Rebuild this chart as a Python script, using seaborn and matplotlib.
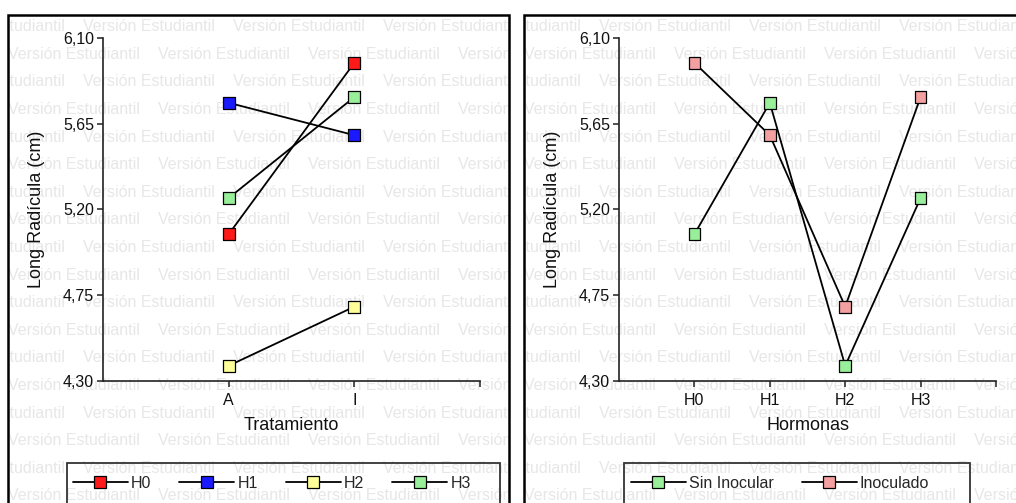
import matplotlib
matplotlib.use("Agg")
import matplotlib.pyplot as plt
from matplotlib.lines import Line2D
from matplotlib.patches import Rectangle
import pandas as pd
import seaborn as sns

# --- data -------------------------------------------------------------
tratamientos = ["A", "I"]
grupos = ["Sin Inocular", "Inoculado"]          # A = Sin Inocular, I = Inoculado
hormonas = ["H0", "H1", "H2", "H3"]
sin_inocular = [5.07, 5.76, 4.38, 5.26]
inoculado = [5.97, 5.59, 4.69, 5.79]
y_ticks = [4.30, 4.75, 5.20, 5.65, 6.10]
y_tick_labels = ["4,30", "4,75", "5,20", "5,65", "6,10"]

colores_hormona = ["#ff1a1a", "#1a1aff", "#ffff99", "#99ef99"]
colores_grupo = ["#99ef99", "#f4a0a0"]

rows = []
for i, h in enumerate(hormonas):
    for t, g, vals in zip(tratamientos, grupos, [sin_inocular, inoculado]):
        rows.append({"Hormona": h, "Tratamiento": t, "Grupo": g, "Long": vals[i]})
df = pd.DataFrame(rows)

# --- style ------------------------------------------------------------
sns.set_theme(style="white")
plt.rcParams["font.family"] = ["Liberation Sans", "DejaVu Sans"]

W, H = 1016, 503
fig = plt.figure(figsize=(W / 100, H / 100), dpi=100)
fig.patch.set_facecolor("white")

def px(x0, y_top, w, h):
    return [x0 / W, 1 - (y_top + h) / H, w / W, h / H]

# panel frames with the faint watermark text inside them
for fx0, fx1 in [(8, 509), (524, 1040)]:
    frame = Rectangle((fx0 / W, -0.1), (fx1 - fx0) / W, 0.1 + 1 - 15 / H,
                      transform=fig.transFigure, fill=False,
                      edgecolor="black", linewidth=1.8, zorder=1)
    fig.add_artist(frame)
    for i in range(19):
        yc = 26.7 + 27.6 * i
        off = 75 if i % 2 == 0 else 0
        for k in range(-1, 4):
            xs = fx0 + off + 150 * k
            t = fig.text(xs / W, 1 - yc / H, "Versión Estudiantil",
                         color="#e7e7e7", fontsize=11.5, ha="left",
                         va="center", zorder=-1)
            t.set_clip_path(frame)

def draw_panel(ax, x, hue, order, hue_order, palette, xlabel, legend_x, box):
    sns.lineplot(data=df, x=x, y="Long", units=hue, estimator=None,
                 color="black", linewidth=1.3, ax=ax, legend=False)
    sns.scatterplot(data=df, x=x, y="Long", hue=hue, hue_order=hue_order,
                    palette=palette, marker="s", s=72, edgecolor="black",
                    linewidth=0.9, ax=ax, legend=False, zorder=3)
    n = len(order)
    ax.set_xlim(-1, n)
    ax.set_xticks(list(range(n + 1)))
    ax.set_xticklabels(order + [""])
    ax.set_ylim(4.30, 6.10)
    ax.set_yticks(y_ticks)
    ax.set_yticklabels(y_tick_labels)
    ax.set_facecolor("none")
    for s in ["top", "right"]:
        ax.spines[s].set_visible(False)
    for s in ["left", "bottom"]:
        ax.spines[s].set_color("#222222")
        ax.spines[s].set_linewidth(1.2)
    ax.tick_params(axis="both", direction="out", length=4.5, width=1.1,
                   color="#222222", labelsize=11.5, labelcolor="#111111")
    ax.tick_params(axis="y", pad=2, left=True)
    ax.tick_params(axis="x", pad=4, bottom=True)
    ax.set_xlabel(xlabel, fontsize=13, color="#111111")
    ax.set_ylabel("Long Radícula (cm)", fontsize=13, color="#111111")
    ax.xaxis.set_label_coords(0.5, -0.105)
    ax.yaxis.set_label_coords(-0.155, 0.5)

    handles = [Line2D([], [], color="black", linewidth=1.3, marker="s",
                      markersize=8.5, markerfacecolor=c, markeredgecolor="black",
                      markeredgewidth=0.9) for c in palette]
    ax.legend(handles, hue_order, loc="center left",
              bbox_to_anchor=(legend_x / W, 1 - 483 / H),
              bbox_transform=fig.transFigure, ncol=len(hue_order),
              frameon=False, borderpad=0, borderaxespad=0,
              handlelength=3.44, handletextpad=0.2, columnspacing=1.75,
              fontsize=11.5)
    bx0, bx1 = box
    fig.add_artist(Rectangle((bx0 / W, -0.1), (bx1 - bx0) / W,
                             0.1 + 1 - 463 / H, transform=fig.transFigure,
                             fill=False, edgecolor="#333333", linewidth=1.3))

ax1 = fig.add_axes(px(103, 38, 377, 343))
draw_panel(ax1, "Tratamiento", "Hormona", tratamientos, hormonas,
           colores_hormona, "Tratamiento", 73, (67, 500))

ax2 = fig.add_axes(px(619, 38, 377, 343))
draw_panel(ax2, "Hormona", "Grupo", hormonas, grupos,
           colores_grupo, "Hormonas", 631, (624, 970))

fig.savefig("out.png", dpi=100)
